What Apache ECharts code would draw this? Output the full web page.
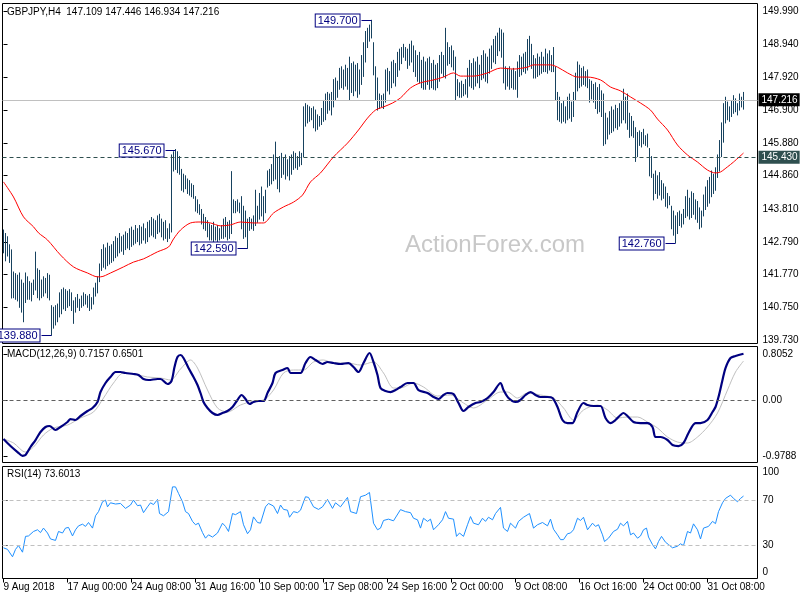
<!DOCTYPE html>
<html><head><meta charset="utf-8">
<script src="https://cdn.jsdelivr.net/npm/echarts@6/dist/echarts.min.js"></script>
<style>html,body{margin:0;padding:0;background:#fff}#c{width:800px;height:600px}</style>
</head><body><div id="c"></div>
<script>
const symbolTitle = 'GBPJPY,H4  147.109 147.446 146.934 147.216';
const macdTitle = 'MACD(12,26,9) 0.7157 0.6501';
const rsiTitle = 'RSI(14) 73.6013';
const watermark = 'ActionForex.com';
const timeLabels = ['9 Aug 2018','17 Aug 00:00','24 Aug 08:00','31 Aug 16:00','10 Sep 00:00','17 Sep 08:00','24 Sep 16:00','2 Oct 00:00','9 Oct 08:00','16 Oct 16:00','24 Oct 00:00','31 Oct 08:00'];
const timeLabelIndex = [0,32,64,96,128,160,192,224,256,288,320,352];
const priceTicks = [139.73,140.75,141.77,142.79,143.81,144.86,145.88,146.90,147.92,148.94,149.99];
const macdTicks = [0.8052,0,-0.9788];
const rsiTicks = [0,30,70,100];
const lastPrice = 147.216;
const supportLevel = 145.43;

const barHigh = [
143.16,143.05,142.95,142.70,142.54,141.85,141.80,141.75,141.82,141.60,
141.50,141.82,141.70,141.55,141.50,141.60,142.47,141.95,141.90,141.60,
141.70,141.65,141.80,141.75,140.80,140.75,140.80,140.85,141.20,141.30,
141.35,141.30,141.25,141.30,141.20,140.95,141.05,141.15,141.00,141.10,
141.20,141.15,141.10,141.15,141.05,141.35,141.50,141.70,142.10,142.55,
142.70,142.60,142.75,142.65,142.70,142.80,142.95,142.90,143.05,142.95,
143.00,143.10,143.05,143.20,143.25,143.15,143.30,143.20,143.30,143.25,
143.35,143.20,143.40,143.45,143.55,143.50,143.45,143.60,143.65,143.50,
143.40,143.45,143.20,143.35,145.50,145.60,145.67,145.60,145.45,145.05,
144.90,144.85,144.75,144.70,144.60,144.55,144.20,144.10,143.95,143.80,
143.65,143.55,143.45,143.35,143.30,143.40,143.25,143.30,143.20,143.30,
143.50,143.55,143.40,143.45,144.98,144.10,144.05,144.10,144.00,144.20,
143.90,143.75,143.50,143.55,143.50,143.60,144.40,143.90,144.30,144.50,
144.20,144.40,145.00,145.05,145.20,145.50,145.90,145.40,145.45,145.55,
145.40,145.50,145.35,145.45,145.50,145.60,145.55,145.45,145.60,145.55,
147.00,147.10,147.05,147.00,146.95,147.00,146.90,146.75,146.70,146.95,
147.20,147.40,147.45,147.40,147.45,147.85,147.90,147.80,148.20,148.25,
148.15,148.30,148.20,148.55,148.35,148.40,148.30,148.35,148.15,148.60,
149.00,149.35,149.45,149.55,149.70,149.00,148.25,147.90,147.40,147.35,
147.40,148.15,148.20,148.10,148.40,148.45,148.35,148.70,148.80,148.85,
148.95,148.85,148.80,148.95,149.05,148.90,148.75,148.60,148.70,148.45,
148.55,148.40,148.50,148.55,148.35,148.45,148.30,148.35,148.60,148.70,
148.60,149.45,149.00,148.85,148.90,148.75,148.55,147.85,147.75,147.80,
147.70,147.85,148.20,148.45,148.35,148.50,148.40,148.55,148.30,148.60,
148.75,148.65,148.55,148.80,148.90,149.10,149.20,149.30,149.45,149.40,
149.30,148.25,148.20,148.25,148.15,148.20,148.10,148.40,148.60,148.55,
148.65,148.70,149.10,149.20,148.95,148.60,148.50,148.65,148.55,148.70,
148.55,148.80,148.65,148.75,148.60,148.85,148.25,147.45,147.30,147.10,
147.20,147.00,147.30,147.40,147.15,147.45,148.05,148.40,148.30,148.20,
148.25,148.10,148.15,147.85,147.80,147.70,147.75,147.60,147.70,147.50,
147.40,146.80,146.65,146.85,147.00,146.90,147.05,146.95,147.10,147.20,
147.55,147.30,147.40,146.80,146.70,146.55,146.35,146.20,146.25,146.20,
146.30,146.10,146.15,145.70,145.45,144.90,145.00,144.85,144.95,144.70,
144.60,144.50,144.30,144.20,143.90,143.75,143.60,143.70,143.75,143.65,
143.80,144.20,144.40,144.15,144.35,144.30,144.10,144.05,143.85,143.75,
144.25,144.50,144.70,144.80,145.00,144.90,145.10,145.50,145.95,146.50,
147.10,147.30,147.15,147.00,147.20,147.35,147.25,147.10,147.40,147.30,147.45
];
const barLow = [
142.45,142.20,142.35,142.15,141.04,141.05,141.00,140.95,140.75,140.60,
140.30,140.90,141.00,141.00,140.95,141.15,141.29,141.05,140.98,141.05,
141.10,141.20,141.05,140.98,139.88,140.10,140.20,140.30,140.45,140.55,
140.70,140.65,140.75,140.80,140.65,140.25,140.60,140.75,140.65,140.75,
140.80,140.85,140.75,140.65,140.70,140.85,141.10,141.20,141.55,141.90,
142.00,141.95,142.05,142.10,142.15,142.20,142.30,142.35,142.45,142.50,
142.40,142.55,142.60,142.55,142.65,142.70,142.75,142.80,142.70,142.75,
142.85,142.75,142.80,142.95,143.00,142.95,142.90,143.05,143.10,142.95,
142.85,142.90,142.80,142.90,143.10,145.00,145.05,144.95,144.90,144.40,
144.35,144.45,144.30,144.25,144.20,144.15,143.75,143.70,143.65,143.35,
143.20,143.15,142.95,142.85,142.85,142.80,142.85,142.80,142.85,142.90,
142.90,142.95,142.85,142.90,143.05,143.70,143.70,143.75,143.70,143.20,
142.90,142.95,142.59,143.15,143.20,143.15,143.30,143.40,143.50,143.60,
143.45,143.70,144.50,144.55,144.60,144.70,144.75,144.45,144.35,144.80,
144.90,144.75,144.85,144.72,144.90,145.05,145.10,145.05,145.15,145.20,
145.45,146.40,146.50,146.55,146.60,146.35,146.25,146.30,146.40,146.45,
146.55,146.60,146.80,146.90,146.75,147.00,147.20,147.30,147.55,147.60,
147.55,147.65,147.55,147.20,147.45,147.35,147.50,147.30,147.40,147.70,
147.95,148.40,148.85,149.05,149.15,148.00,147.20,146.90,146.95,147.00,
146.95,147.15,147.50,147.40,147.60,147.75,147.65,147.95,148.15,148.35,
148.55,148.45,148.20,148.30,148.40,148.10,147.95,147.80,147.75,147.60,
147.55,147.55,147.70,147.55,147.60,147.55,147.53,147.60,147.80,148.05,
147.95,147.90,148.30,148.35,148.25,148.15,147.20,147.35,147.30,147.30,
147.35,147.40,147.30,147.65,147.60,147.55,147.65,147.75,147.60,147.85,
147.90,147.80,147.75,148.05,148.20,148.40,148.35,148.60,148.75,148.55,
147.75,147.55,147.65,147.55,147.60,147.55,147.55,147.30,147.95,148.00,
148.10,148.05,148.15,148.30,148.20,147.90,147.90,147.95,148.00,148.05,
148.10,148.10,148.05,148.15,148.10,148.10,147.20,146.60,146.55,146.50,
146.55,146.50,146.60,146.65,146.55,146.70,147.20,147.50,147.60,147.65,
147.70,147.65,147.60,147.15,147.25,147.15,146.95,146.80,146.85,146.70,
145.80,145.85,146.00,146.15,146.20,146.25,146.35,146.30,146.40,146.50,
146.60,146.50,146.30,146.05,146.10,146.05,145.30,145.45,145.80,145.75,
145.85,145.80,145.75,144.85,144.80,144.10,144.30,144.15,144.25,144.10,
144.15,143.90,143.85,143.95,143.20,143.00,142.76,143.05,143.30,143.25,
143.35,143.55,143.60,143.50,143.55,143.65,143.50,143.40,143.20,143.25,
143.60,143.80,143.90,144.00,144.20,144.30,144.40,144.80,145.00,145.45,
145.90,146.50,146.60,146.55,146.70,146.80,146.85,146.75,146.90,147.00,146.93
];
const maPoints = [[0,144.66],[5,144.19],[10,143.57],[15,143.26],[17.5,143.07],[22,142.85],[28.5,142.38],[35,142.01],[42,141.82],[47,141.70],[48.5,141.70],[53.5,141.82],[60,142.01],[65,142.16],[70,142.26],[77,142.48],[82.5,142.63],[85,142.88],[88.5,143.16],[93.5,143.38],[98.5,143.41],[103.5,143.38],[108.5,143.29],[113.5,143.32],[118.5,143.41],[125,143.38],[130,143.38],[135,143.69],[140,143.88],[145,144.03],[149.5,144.25],[153.5,144.66],[158.5,144.94],[165,145.44],[172,145.87],[177.5,146.28],[182,146.65],[186,146.90],[190,147.00],[194.5,147.12],[198.5,147.28],[203.5,147.59],[208.5,147.75],[215,147.84],[220,147.93],[225,148.06],[228.5,147.96],[235,147.96],[242,148.06],[248.5,148.21],[255,148.18],[262,148.24],[265,148.31],[273.5,148.31],[277,148.24],[282,148.06],[287,147.93],[292,147.93],[298.5,147.84],[303.5,147.62],[308.5,147.50],[313.5,147.31],[318.5,147.12],[323.5,146.90],[327,146.62],[332,146.28],[337,145.81],[342,145.50],[347,145.28],[352,145.03],[356,144.94],[358.5,144.97],[362,145.13],[365,145.28],[370,145.56]];
const macdMain = [[0,-0.685],[3.5,-0.808],[7,-0.913],[9.5,-0.979],[11,-0.965],[13.5,-0.825],[16,-0.703],[18.5,-0.563],[21,-0.476],[23,-0.458],[26,-0.528],[28.5,-0.476],[32,-0.388],[33.5,-0.336],[36,-0.353],[38.5,-0.283],[42,-0.196],[44.5,-0.143],[47,-0.038],[48.5,0.136],[51,0.294],[53.5,0.399],[56,0.486],[58.5,0.486],[61,0.469],[65,0.451],[67.5,0.434],[70,0.364],[72.5,0.346],[77,0.364],[78.5,0.364],[82,0.276],[84,0.329],[85.5,0.573],[87,0.748],[88.5,0.783],[90,0.731],[92.5,0.556],[95,0.399],[97,0.259],[98.5,0.119],[100,-0.038],[102,-0.143],[104.5,-0.231],[107,-0.266],[109.5,-0.231],[112,-0.196],[114.5,-0.126],[117,-0.003],[119,0.084],[121,0.014],[123,-0.073],[125,-0.038],[127.5,-0.021],[130,-0.021],[132,0.119],[134.5,0.294],[136,0.469],[139.5,0.521],[142,0.556],[143.5,0.469],[146,0.469],[148.5,0.469],[151,0.643],[153.5,0.748],[156,0.696],[159.5,0.626],[162,0.661],[165,0.643],[168.5,0.626],[172.5,0.643],[175,0.573],[177.5,0.486],[180,0.643],[183,0.818],[185,0.661],[187,0.434],[188.5,0.206],[191,0.154],[193.5,0.136],[196,0.171],[198.5,0.224],[202,0.294],[205,0.294],[207.5,0.171],[212,0.119],[215,0.049],[217.5,0.014],[220,0.084],[222,0.119],[225,0.101],[227.5,-0.056],[230,-0.196],[232.5,-0.126],[236,-0.056],[238.5,-0.038],[242,0.031],[245,0.136],[248.5,0.294],[250,0.171],[252.5,0.031],[256,-0.038],[258.5,-0.003],[261,0.084],[263.5,0.136],[266,0.084],[268.5,0.049],[272,0.049],[274.5,0.031],[277,-0.126],[279.5,-0.353],[282,-0.406],[284.5,-0.406],[287,-0.213],[290,-0.056],[292,-0.091],[295,-0.108],[298.5,-0.108],[301,-0.318],[303.5,-0.406],[306,-0.353],[308.5,-0.266],[310,-0.231],[312,-0.283],[315,-0.388],[318.5,-0.406],[322,-0.406],[324.5,-0.476],[326,-0.650],[328.5,-0.650],[332,-0.703],[334.5,-0.790],[337.5,-0.808],[340,-0.755],[342.5,-0.580],[346,-0.406],[348.5,-0.406],[352,-0.353],[354.5,-0.213],[356,-0.126],[357.5,0.049],[359.5,0.346],[361,0.556],[363.5,0.731],[366,0.766],[370,0.805]];
const macdSignal = [[0,-0.685],[5,-0.755],[11,-0.913],[15,-0.825],[20,-0.615],[25,-0.493],[32,-0.441],[38.5,-0.318],[45,-0.213],[50,0.031],[55,0.294],[60,0.469],[65,0.451],[72,0.399],[78.5,0.381],[83.5,0.346],[88.5,0.538],[93.5,0.696],[97,0.556],[102,0.171],[107,-0.143],[112,-0.213],[118.5,-0.091],[125,-0.021],[130,-0.003],[135,0.171],[140,0.469],[145,0.521],[150,0.521],[155,0.661],[160,0.696],[165,0.643],[172,0.643],[178.5,0.608],[185,0.661],[190,0.469],[195,0.206],[198.5,0.206],[205,0.294],[210,0.224],[217,0.066],[223.5,0.084],[230,-0.056],[235,-0.143],[242,-0.003],[248.5,0.136],[252,0.136],[257,0.031],[262,0.119],[268.5,0.084],[275,0.031],[280,-0.143],[285,-0.353],[290,-0.178],[297,-0.091],[302,-0.178],[307,-0.318],[312,-0.301],[317,-0.301],[322,-0.388],[327,-0.493],[332,-0.650],[337,-0.738],[342,-0.755],[347,-0.650],[352,-0.476],[357,-0.231],[362,0.171],[366,0.486],[370,0.678]];
const rsiPoints = [[0,27.4],[2,26],[4.5,19.4],[6,26],[7.5,29.4],[9.5,23.5],[11,37.6],[12.5,38],[15,42],[17,43.5],[18.5,41],[20,45],[22,40.6],[23.5,35.3],[26,34],[27.5,42],[29.5,40.6],[31,45],[32.5,45.6],[34.5,38],[36,43.5],[37.5,47],[39.5,48.5],[41,46.5],[42.5,50],[44.5,45],[46,56],[47.5,59.7],[49.5,68.5],[51,70],[52,64],[53.5,67.6],[56,66.5],[58.5,67],[61,62.6],[63.5,65.6],[65,70],[67,65],[68.5,65.6],[70,58.8],[72,64],[73.5,67.6],[75,66],[77,70.6],[78,58],[80,56],[82.5,59.7],[84.5,81.8],[86,81.8],[87.5,76],[89.5,68.5],[91,59.7],[92.5,58],[94.5,51],[96,48],[97.5,49.4],[99.5,41],[101,36],[102.5,39],[104.5,37],[107,40.6],[109.5,49.4],[111,46.5],[112.5,42],[114.5,58],[116,57],[118.5,59.7],[120,48],[122,40],[123.5,43.5],[125,55],[127,50],[128.5,49.4],[131,64],[132.5,67],[135,64.7],[137,58],[138.5,65.6],[140,61.7],[142,61],[143,54.7],[145,59.7],[147,58.8],[148.5,61],[151,73],[152.5,72.4],[155,64],[157.5,61.7],[159.5,64],[162,70.6],[164.5,62.6],[166,67.6],[168.5,64],[172,72.4],[173.5,59.7],[176.5,58],[178.5,73],[181,74.4],[183,76.8],[185,49.4],[187,43.5],[188.5,45],[190,51.8],[192.5,53],[195,51.5],[198.5,61.5],[201,59.7],[203.5,58.8],[205,53.8],[207,52.4],[208.5,45],[210,53.8],[212,51],[213.5,53],[215,43.5],[217.5,48],[219.5,52.4],[221,59.7],[222.5,53.8],[225,53],[226.5,37.6],[228,40.6],[230,37.6],[232,48],[233.5,55.3],[235,49.4],[237.5,48],[239.5,53.8],[241,51],[242.5,54.7],[244.5,52.4],[246,58],[248.5,63.5],[250,45],[252,42],[253.5,49.4],[256,45],[257.5,51],[260,54.7],[263,58],[265,45],[267,48],[269.5,50],[272,47],[273.5,53],[275,44],[277,39],[278.5,34.7],[280,34.7],[282,40],[283.5,40.6],[285,43.5],[287,53.8],[288.5,51.8],[290,54.7],[292,43.5],[294.5,49.4],[296,46.5],[297.5,48],[299.5,39],[300.5,33],[302.5,36],[305,42],[307,44],[308.5,49.4],[310,47],[312,51],[313.5,39],[315,40.6],[317,36],[318.5,38],[320,43.5],[321.5,45],[322.5,37],[324.5,30.3],[326,26.5],[327.5,33],[329,37.6],[331,32.4],[332.5,30.3],[334.5,27.4],[337,28.8],[338.5,31],[340,29.4],[342,42],[343.5,40.6],[345,48.8],[347,43.5],[348.5,35.3],[350,45],[352.5,46.5],[354.5,51],[356,49],[357.5,59.7],[359.5,67.6],[361,71.5],[363.5,74.4],[365,71.5],[367,68.5],[368.5,71.5],[370,73.6]];
const peakLabels = [[24,139.88,'139.880'],[86,145.67,'145.670'],[122,142.59,'142.590'],[184,149.70,'149.700'],[336,142.76,'142.760']];

const FONT = '"Liberation Sans", Arial, sans-serif';
const FS = 10;
const barColor = '#17425f';
const X_MIN = -0.5, X_MAX = 377;
const barData = barHigh.map((h, i) => [i, barLow[i], h]);

function xAxisFor(g) {
  const show = g === 2;
  return {
    type: 'value', gridIndex: g, min: X_MIN, max: X_MAX, show: show,
    splitLine: {show: false}, axisLine: {show: false},
    axisTick: {show: show, customValues: timeLabelIndex, length: 4, lineStyle: {color: '#000'}},
    axisLabel: {show: show, customValues: timeLabelIndex, align: 'left', margin: 4,
      fontSize: FS, fontFamily: FONT, color: '#000',
      formatter: v => timeLabels[timeLabelIndex.indexOf(Math.round(v))] || ''}
  };
}
const labelBase = {fontSize: FS, fontFamily: FONT, color: '#000', margin: 5};

const option = {
  animation: false,
  backgroundColor: '#fff',
  grid: [
    {left: 2.5, top: 3.5, width: 755, height: 340, show: true, borderColor: '#000', borderWidth: 1, outerBoundsMode: 'none'},
    {left: 2.5, top: 346.5, width: 755, height: 116, show: true, borderColor: '#000', borderWidth: 1, outerBoundsMode: 'none'},
    {left: 2.5, top: 466.5, width: 755, height: 112, show: true, borderColor: '#000', borderWidth: 1, outerBoundsMode: 'none'}
  ],
  xAxis: [xAxisFor(0), xAxisFor(1), xAxisFor(2)],
  yAxis: [
    {type: 'value', gridIndex: 0, position: 'right', min: 139.621, max: 150.224,
      splitLine: {show: false}, axisLine: {show: false},
      axisTick: {show: true, customValues: priceTicks, length: 4, lineStyle: {color: '#000'}},
      axisLabel: Object.assign({customValues: priceTicks, formatter: v => v.toFixed(3)}, labelBase)},
    {type: 'value', gridIndex: 1, position: 'right', min: -1.096, max: 0.932,
      splitLine: {show: false}, axisLine: {show: false},
      axisTick: {show: true, customValues: macdTicks, length: 4, lineStyle: {color: '#000'}},
      axisLabel: Object.assign({customValues: macdTicks, formatter: v => Math.abs(v) < 1e-9 ? '0.00' : v.toFixed(4)}, labelBase)},
    {type: 'value', gridIndex: 2, position: 'right', min: 0, max: 100,
      splitLine: {show: false}, axisLine: {show: false},
      axisTick: {show: true, customValues: rsiTicks, length: 4, lineStyle: {color: '#000'}},
      axisLabel: Object.assign({customValues: rsiTicks,
        formatter: v => v >= 100 ? '{t|100}' : (v <= 0 ? '{b|0}' : '{n|' + v + '}'),
        rich: {t: {padding: [12, 0, 0, 0]}, b: {padding: [0, 0, 12, 0]}, n: {}}}, labelBase)}
  ],
  graphic: [
    {type: 'text', left: 405, top: 233, z: 0, silent: true, style: {text: watermark, fontSize: 24, fontFamily: FONT, fill: '#c8c8c8'}},
    {type: 'text', left: 7, top: 7.5, z: 10, style: {text: symbolTitle, fontSize: FS, fontFamily: FONT, fill: '#000'}},
    {type: 'text', left: 7, top: 349.5, z: 10, style: {text: macdTitle, fontSize: FS, fontFamily: FONT, fill: '#000'}},
    {type: 'text', left: 7, top: 469, z: 10, style: {text: rsiTitle, fontSize: FS, fontFamily: FONT, fill: '#000'}}
  ],
  series: [
    {type: 'line', name: 'levels', xAxisIndex: 0, yAxisIndex: 0, z: 1,
      data: [[0, lastPrice]], symbol: 'none', lineStyle: {width: 0},
      markLine: {silent: true, symbol: 'none', animation: false,
        data: [
          {yAxis: lastPrice, lineStyle: {color: '#c0c0c0', type: 'solid', width: 1},
            label: {show: true, position: 'end', distance: 1, formatter: lastPrice.toFixed(3), color: '#fff', backgroundColor: '#000', padding: [2, 2, 1, 3], fontSize: FS, fontFamily: FONT}},
          {yAxis: supportLevel, lineStyle: {color: '#2f4f4f', type: [4, 3], width: 1},
            label: {show: true, position: 'end', distance: 1, formatter: supportLevel.toFixed(3), color: '#fff', backgroundColor: '#2f4f4f', padding: [2, 2, 1, 3], fontSize: FS, fontFamily: FONT}}
        ]}},
    {type: 'custom', name: 'bars', xAxisIndex: 0, yAxisIndex: 0, z: 2, data: barData,
      encode: {x: 0, y: [1, 2]},
      renderItem: (params, api) => {
        const i = api.value(0);
        const lo = api.coord([i, api.value(1)]);
        const hi = api.coord([i, api.value(2)]);
        const x = Math.round(lo[0] - 0.5) + 0.5;
        return {type: 'line', shape: {x1: x, y1: lo[1] + 0.5, x2: x, y2: hi[1] - 0.5}, style: {stroke: barColor, lineWidth: 1}};
      }},
    {type: 'line', name: 'MA', xAxisIndex: 0, yAxisIndex: 0, z: 3, data: maPoints, symbol: 'none', smooth: 0.3,
      lineStyle: {color: '#ff0000', width: 1}},
    {type: 'custom', name: 'peaks', xAxisIndex: 0, yAxisIndex: 0, z: 6, data: peakLabels.map(p => [p[0], p[1]]),
      renderItem: (params, api) => {
        const p = api.coord([api.value(0), api.value(1)]);
        const x = Math.round(p[0] - 0.5) + 0.5, y = Math.round(p[1]) + 0.5;
        return {type: 'group', children: [
          {type: 'line', shape: {x1: x - 10, y1: y, x2: x, y2: y}, style: {stroke: '#000080', lineWidth: 1}},
          {type: 'text', x: x - 12, y: y, style: {text: peakLabels[params.dataIndex][2], align: 'right', verticalAlign: 'middle',
            fill: '#000080', fontSize: 11, fontFamily: FONT, backgroundColor: '#fff', borderColor: '#000080', borderWidth: 1, padding: [1, 2, 0, 2]}}
        ]};
      }},
    {type: 'line', name: 'signal', xAxisIndex: 1, yAxisIndex: 1, z: 2, data: macdSignal, symbol: 'none', smooth: 0.3,
      lineStyle: {color: '#c0c0c0', width: 1},
      markLine: {silent: true, symbol: 'none', label: {show: false}, data: [{yAxis: 0}], lineStyle: {color: '#606060', type: [4, 3], width: 1}}},
    {type: 'line', name: 'macd', xAxisIndex: 1, yAxisIndex: 1, z: 3, data: macdMain, symbol: 'none', smooth: 0.3,
      lineStyle: {color: '#000080', width: 2.2}},
    {type: 'line', name: 'rsi', xAxisIndex: 2, yAxisIndex: 2, z: 3, data: rsiPoints, symbol: 'none',
      lineStyle: {color: '#1e90ff', width: 1},
      markLine: {silent: true, symbol: 'none', label: {show: false}, data: [{yAxis: 70}, {yAxis: 30}], lineStyle: {color: '#c0c0c0', type: [4, 3], width: 1}}}
  ]
};
const chart = echarts.init(document.getElementById('c'), null, {renderer: 'canvas', width: 800, height: 600});
chart.setOption(option);
</script>
</body></html>
